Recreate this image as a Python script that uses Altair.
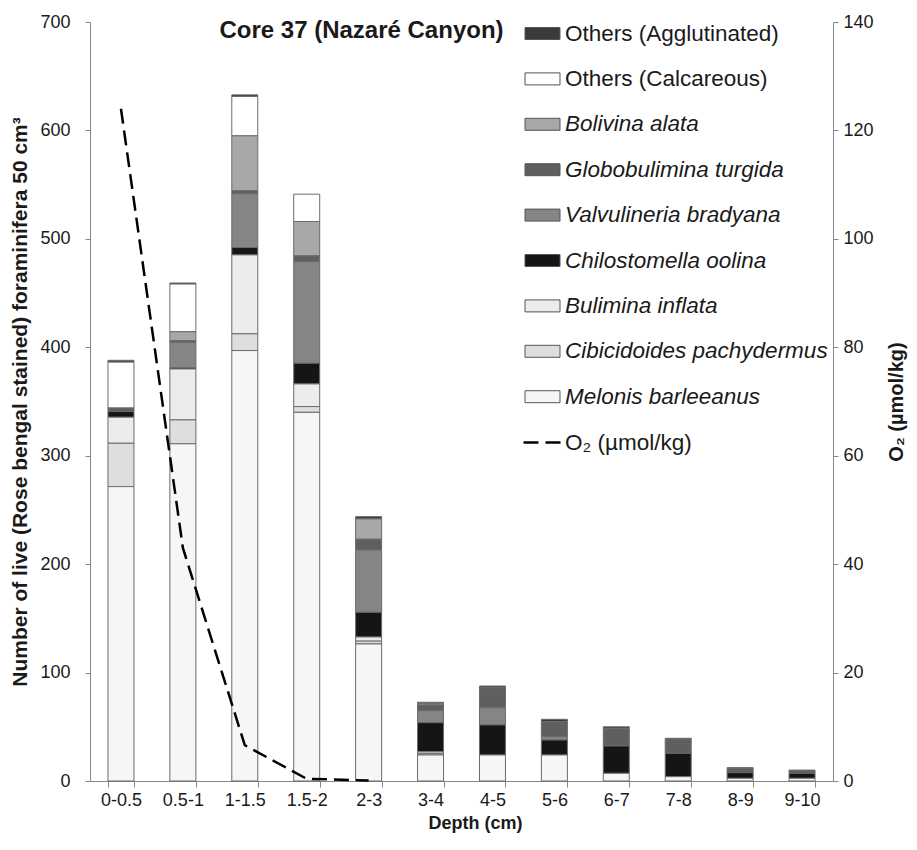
import altair as alt
import pandas as pd

depths = ["0-0.5", "0.5-1", "1-1.5", "1.5-2", "2-3", "3-4", "4-5", "5-6", "6-7", "7-8", "8-9", "9-10"]

species = [
    "Others (Agglutinated)",
    "Others (Calcareous)",
    "Bolivina alata",
    "Globobulimina turgida",
    "Valvulineria bradyana",
    "Chilostomella oolina",
    "Bulimina inflata",
    "Cibicidoides pachydermus",
    "Melonis barleeanus",
]
fills = ["#3a3a3a", "#ffffff", "#a8a8a8", "#5f5f5f", "#858585", "#151515", "#ececec", "#dedede", "#f6f6f6"]

agglutinated = [1.7, 1.0, 1.5, 0.0, 2.1, 1.0, 1.5, 2.2, 1.4, 0.7, 0.6, 0.6]
calcareous = [42.3, 44.0, 36.3, 25.2, 0.0, 0.0, 0.0, 0.0, 0.0, 0.0, 0.0, 0.0]
bolivina = [0.0, 8.2, 50.7, 31.7, 18.7, 1.5, 0.0, 0.0, 0.0, 0.0, 0.0, 0.0]
globobulimina = [3.3, 1.5, 2.8, 5.3, 10.0, 5.2, 18.5, 13.8, 16.3, 13.2, 4.0, 2.4]
valvulineria = [0.0, 23.6, 49.5, 93.7, 57.4, 11.1, 15.9, 3.1, 0.0, 0.0, 0.0, 0.0]
chilostomella = [5.2, 1.0, 6.8, 19.1, 22.8, 26.8, 27.7, 13.8, 25.2, 21.5, 5.2, 4.6]
bulimina = [24.0, 47.0, 72.8, 20.9, 3.8, 1.5, 0.0, 0.0, 0.0, 0.0, 0.0, 0.0]
cibicidoides = [40.0, 22.0, 15.4, 5.3, 2.6, 1.5, 0.0, 0.0, 0.0, 0.0, 0.0, 0.0]
melonis = [271.5, 311.0, 397.0, 340.0, 126.4, 24.0, 24.0, 24.0, 7.1, 4.0, 2.5, 2.5]

o2_depths = ["0-0.5", "0.5-1", "1-1.5", "1.5-2", "2-3"]
o2_values = [124.0, 43.0, 6.6, 0.4, 0.1]
o2_label = "O\u2082 (\u00b5mol/kg)"

series = [agglutinated, calcareous, bolivina, globobulimina, valvulineria,
          chilostomella, bulimina, cibicidoides, melonis]

rows = []
for si, (name, vals) in enumerate(zip(species, series)):
    for d, v in zip(depths, vals):
        if v > 0:
            rows.append({"depth": d, "species": name, "count": v, "ord": len(species) - 1 - si})
df = pd.DataFrame(rows)
o2df = pd.DataFrame({"depth": o2_depths, "o2": o2_values, "lab": [o2_label] * len(o2_depths)})

FONT = "Liberation Sans"
AX = "#868686"
TXT = "#1a1a1a"

xenc = alt.X(
    "depth:N",
    sort=depths,
    scale=alt.Scale(paddingInner=0.58, paddingOuter=0.29),
    axis=alt.Axis(
        title="Depth (cm)", labelAngle=0, tickBand="extent", tickSize=6,
        labelPadding=4, labelFontSize=18, titleFontSize=18, titleFontWeight="bold",
        titlePadding=5, titleX=385, titleAlign="center",
        domainColor=AX, tickColor=AX, labelColor=TXT, titleColor=TXT,
        grid=False,
    ),
)

bars = alt.Chart(df).mark_bar(stroke="#6b6b6b", strokeWidth=1).encode(
    x=xenc,
    y=alt.Y(
        "count:Q", stack="zero",
        scale=alt.Scale(domain=[0, 700], nice=False),
        axis=alt.Axis(
            values=list(range(0, 701, 100)), grid=False, tickSize=5, labelPadding=15,
            labelFontSize=18, title="Number of live (Rose bengal stained) foraminifera 50 cm\u00b3",
            titleFontSize=21, titleFontWeight="bold", titlePadding=9,
            domainColor=AX, tickColor=AX, labelColor=TXT, titleColor=TXT,
        ),
    ),
    fill=alt.Fill(
        "species:N",
        scale=alt.Scale(domain=species, range=fills),
        legend=alt.Legend(
            orient="none", legendX=441, legendY=0, title=None,
            symbolType="M-1.59,-0.545H1.59V0.545H-1.59Z", symbolSize=484,
            symbolStrokeColor="#555555", symbolStrokeWidth=1,
            labelFontSize=22.5, labelFont=FONT, labelOffset=11, labelLimit=500,
            rowPadding=22.4, padding=0, labelColor=TXT,
            labelFontStyle={"expr": "indexof(datum.label, 'Others') === 0 ? 'normal' : 'italic'"},
        ),
    ),
    order=alt.Order("ord:Q", sort="ascending"),
)

line = alt.Chart(o2df).mark_line(color="black", strokeWidth=2.5).encode(
    x=alt.X("depth:N", sort=depths),
    y=alt.Y(
        "o2:Q",
        scale=alt.Scale(domain=[0, 140], nice=False),
        axis=alt.Axis(
            orient="right", values=list(range(0, 141, 20)), grid=False, tickSize=5,
            labelPadding=5, labelFontSize=18, title=o2_label, titleFontSize=20,
            titleFontWeight="bold", titleAngle=270, titleBaseline="top", titlePadding=13,
            domainColor=AX, tickColor=AX, labelColor=TXT, titleColor=TXT,
        ),
    ),
    strokeDash=alt.StrokeDash(
        "lab:N",
        scale=alt.Scale(domain=[o2_label], range=[[15, 7]]),
        legend=alt.Legend(
            orient="none", legendX=432, legendY=399, title=None,
            symbolType="stroke", symbolSize=1600, symbolStrokeWidth=2.5,
            symbolStrokeColor="black", labelFontSize=22.5, labelFont=FONT,
            labelOffset=0, padding=0, labelColor=TXT,
        ),
    ),
)

chart = (
    alt.layer(bars, line)
    .resolve_scale(y="independent", fill="independent", strokeDash="independent")
    .properties(
        width=743, height=759,
        padding={"left": 82, "top": 14, "right": 76, "bottom": 58},
        autosize=alt.AutoSizeParams(type="none"),
        title=alt.TitleParams(
            "Core 37 (Nazar\u00e9 Canyon)",
            anchor="middle", frame="group", dx=-100, dy=49, offset=0,
            fontSize=24, fontWeight="bold", font=FONT, color=TXT, baseline="alphabetic",
        ),
    )
    .configure(font=FONT)
    .configure_view(stroke=None)
)

chart.save("out.html", embed_options={"renderer": "svg", "actions": False})
